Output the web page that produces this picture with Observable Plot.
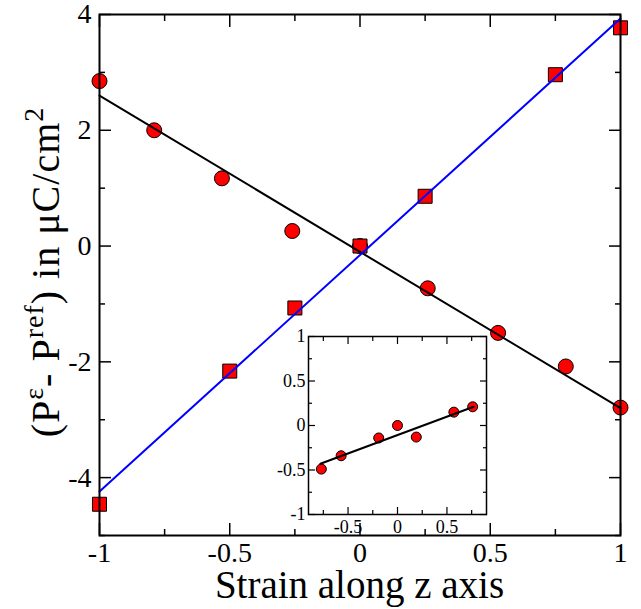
<!DOCTYPE html>
<html>
<head>
<meta charset="utf-8">
<script src="https://cdn.jsdelivr.net/npm/d3@7"></script>
<script src="https://cdn.jsdelivr.net/npm/@observablehq/plot@0.6"></script>
<style>
  html, body { margin: 0; padding: 0; background: #fff; }
  #wrap { position: relative; width: 641px; height: 609px; font-family: "Liberation Serif", "Times New Roman", serif; color: #000; }
  #wrap svg { position: absolute; }
</style>
</head>
<body>
<div id="wrap"></div>
<script>
// ---- main chart data ----
const circleX = [-1, -0.79, -0.53, -0.26, 0, 0.26, 0.53, 0.79, 1];
const circleY = [2.85, 2.0, 1.17, 0.26, 0.0, -0.73, -1.5, -2.08, -2.79];
const squareX = [-1, -0.5, -0.25, 0, 0.25, 0.75, 1];
const squareY = [-4.46, -2.16, -1.07, 0.0, 0.86, 2.96, 3.77];
const blackFitX = [-1, 1];
const blackFitY = [2.6, -2.8];
const blueFitX = [-1, 1];
const blueFitY = [-4.24, 3.93];
const xMajor = [-1, -0.5, 0, 0.5, 1];
const xMinor = [-0.75, -0.25, 0.25, 0.75];
const yMajor = [-4, -2, 0, 2, 4];
const yMinor = [-5, -3, -1, 1, 3];
const xTitle = "Strain along z axis";

// ---- inset data ----
const insetX = [-0.77, -0.57, -0.19, 0, 0.19, 0.57, 0.76];
const insetY = [-0.49, -0.34, -0.14, 0.0, -0.13, 0.15, 0.21];
const insetFitX = [-0.78, 0.77];
const insetFitY = [-0.43, 0.21];
const insetXMajor = [-0.5, 0, 0.5];
const insetXMinor = [-0.75, -0.25, 0.25, 0.75];
const insetYMajor = [-1, -0.5, 0, 0.5, 1];
const insetYMinor = [-0.75, -0.25, 0.25, 0.75];

const zip = (xs, ys) => xs.map((x, i) => ({x, y: ys[i]}));
const circles = zip(circleX, circleY);
const squares = zip(squareX, squareY);
const blackFit = zip(blackFitX, blackFitY);
const blueFit = zip(blueFitX, blueFitY);
const insetPts = zip(insetX, insetY);
const insetFit = zip(insetFitX, insetFitY);

const FONT = '"Liberation Serif", "Times New Roman", serif';
const fmt = d => String(d);

function tickAxes(xMaj, xMin, yMaj, yMin, major, minor, sw) {
  const out = [];
  for (const anchor of ["bottom", "top"]) {
    out.push(Plot.axisX(xMaj, {anchor, tickSize: -major, text: null, label: null, strokeWidth: sw}));
    out.push(Plot.axisX(xMin, {anchor, tickSize: -minor, text: null, label: null, strokeWidth: sw}));
  }
  for (const anchor of ["left", "right"]) {
    out.push(Plot.axisY(yMaj, {anchor, tickSize: -major, text: null, label: null, strokeWidth: sw}));
    out.push(Plot.axisY(yMin, {anchor, tickSize: -minor, text: null, label: null, strokeWidth: sw}));
  }
  return out;
}

const main = Plot.plot({
  width: 641,
  height: 609,
  marginLeft: 99,
  marginRight: 21,
  marginTop: 14,
  marginBottom: 74,
  style: {fontFamily: FONT, color: "#000", background: "transparent", overflow: "visible"},
  x: {domain: [-1, 1]},
  y: {domain: [-5, 4]},
  marks: [
    ...tickAxes(xMajor, xMinor, yMajor, yMinor, 12, 6, 1.5),
    Plot.axisX(xMajor, {anchor: "bottom", tickSize: 0, tickPadding: 7, tickFormat: fmt, fontSize: 28, fontFamily: FONT, label: null}),
    Plot.axisY(yMajor, {anchor: "left", tickSize: 0, tickPadding: 8, tickFormat: fmt, fontSize: 28, fontFamily: FONT, label: null}),
    Plot.dot(circles, {x: "x", y: "y", r: 7.5, fill: "#ff0000", stroke: "#000", strokeWidth: 1}),
    Plot.dot(squares, {x: "x", y: "y", r: 7.9, symbol: "square", fill: "#ff0000", stroke: "#000", strokeWidth: 1}),
    Plot.line(blackFit, {x: "x", y: "y", stroke: "#000", strokeWidth: 2}),
    Plot.line(blueFit, {x: "x", y: "y", stroke: "#0000ff", strokeWidth: 2}),
    Plot.frame({stroke: "#000", strokeWidth: 2})
  ]
});
main.setAttribute("font-family", FONT);
main.style.left = "0px";
main.style.top = "0px";

// titles with superscripts
const msvg = d3.select(main);
msvg.append("text")
  .attr("x", 359.5).attr("y", 598)
  .attr("text-anchor", "middle")
  .attr("font-size", 39)
  .attr("font-family", FONT)
  .attr("fill", "#000")
  .text(xTitle);

const yl = msvg.append("text")
  .attr("transform", "translate(59,272) rotate(-90)")
  .attr("text-anchor", "middle")
  .attr("font-size", 40)
  .attr("letter-spacing", 1)
  .attr("font-family", FONT)
  .attr("fill", "#000");
const yParts = [
  ["(P", false], ["ε", true], ["- P", false], ["ref", true], [") in μC/cm", false], ["2", true]
];
let sup = false;
for (const [t, s] of yParts) {
  const ts = yl.append("tspan").text(t);
  if (s && !sup) { ts.attr("dy", -16).attr("font-size", 28); }
  else if (!s && sup) { ts.attr("dy", 16); }
  else if (s) { ts.attr("font-size", 28); }
  sup = s;
}

// inset
const inset = Plot.plot({
  width: 232,
  height: 212,
  marginLeft: 48,
  marginRight: 6,
  marginTop: 14,
  marginBottom: 20,
  style: {fontFamily: FONT, color: "#000", background: "transparent", overflow: "visible"},
  x: {domain: [-0.9, 0.9]},
  y: {domain: [-1, 1]},
  marks: [
    Plot.frame({fill: "#fff"}),
    ...tickAxes(insetXMajor, insetXMinor, insetYMajor, insetYMinor, 7, 4, 1.2),
    Plot.axisX(insetXMajor, {anchor: "bottom", tickSize: 0, tickPadding: 6, tickFormat: fmt, fontSize: 18, fontFamily: FONT, label: null}),
    Plot.axisY(insetYMajor, {anchor: "left", tickSize: 0, tickPadding: 3, tickFormat: fmt, fontSize: 18, fontFamily: FONT, label: null}),
    Plot.dot(insetPts, {x: "x", y: "y", r: 5, fill: "#ff0000", stroke: "#000", strokeWidth: 1}),
    Plot.line(insetFit, {x: "x", y: "y", stroke: "#000", strokeWidth: 2}),
    Plot.frame({stroke: "#000", strokeWidth: 1.5})
  ]
});
inset.setAttribute("font-family", FONT);
inset.style.left = "260px";
inset.style.top = "322px";

const wrap = document.getElementById("wrap");
wrap.appendChild(main);
wrap.appendChild(inset);
</script>
</body>
</html>
